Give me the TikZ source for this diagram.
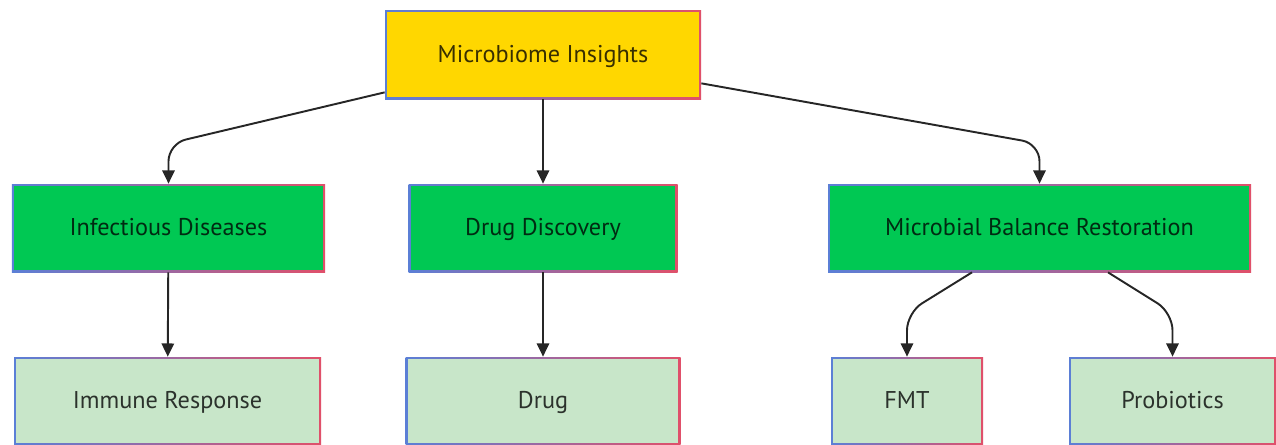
\documentclass[tikz,border=0pt]{standalone}
\usepackage{fontspec}
\setmainfont{PT Sans}
\usetikzlibrary{arrows.meta}
\definecolor{rootyellow}{HTML}{FFD700}
\definecolor{midgreen}{HTML}{00C853}
\definecolor{leafgreen}{HTML}{C8E6C9}
\definecolor{borderblue}{HTML}{5B7FD6}
\definecolor{borderred}{HTML}{E0506A}
\tikzset {>={Triangle[length=7.5pt,width=7pt]},
  boxfill/.store in=\boxfillcolor, boxfill=white,
  box/.style={inner sep=0pt, minimum height=1.76cm,
    text height=2.25ex, text depth=.45ex,
    text=black, text opacity=.78, font=\fontsize{13.8}{16}\selectfont,
    path picture={
      \shade[left color=borderblue, right color=borderred]
        (path picture bounding box.south west) rectangle (path picture bounding box.north east);
      \fill[\boxfillcolor]
        ([shift={(1.2pt,1.2pt)}]path picture bounding box.south west) rectangle
        ([shift={(-1.2pt,-1.2pt)}]path picture bounding box.north east);}},
  rootbox/.style={box, boxfill=rootyellow},
  midbox/.style={box, boxfill=midgreen},
  leafbox/.style={box, boxfill=leafgreen},
  edge/.style={->, line width=1.1pt, draw=black!85, rounded corners=10pt}
}

\begin{document}
\begin{tikzpicture}
\useasboundingbox (0,0) rectangle (25.52,8.88);

% top
\node[rootbox, minimum width=6.32cm, minimum height=1.78cm] (insights) at (10.86,7.79) {Microbiome Insights};

% middle row
\node[midbox, minimum width=6.26cm] (infect) at (3.37,4.32) {Infectious Diseases};
\node[midbox, minimum width=5.38cm] (drugdisc) at (10.86,4.32) {Drug Discovery};
\node[midbox, minimum width=8.46cm] (balance) at (20.79,4.32) {Microbial Balance Restoration};

% bottom row
\node[leafbox, minimum width=6.14cm] (immune) at (3.35,0.86) {Immune Response};
\node[leafbox, minimum width=5.5cm] (drug) at (10.86,0.86) {Drug};
\node[leafbox, minimum width=3.04cm] (fmt) at (18.14,0.86) {FMT};
\node[leafbox, minimum width=4.14cm] (probio) at (23.45,0.86) {Probiotics};

\draw[edge] ([yshift=.14cm]insights.south west) -- ([yshift=.8cm]infect.north) -- (infect.north);
\draw[edge] (insights.south) -- (drugdisc.north);
\draw[edge] ([yshift=.32cm]insights.south east) -- ([yshift=.8cm]balance.north) -- (balance.north);

\draw[edge] (infect) -- (immune);
\draw[edge] (drugdisc) -- (drug);
\draw[edge] ([xshift=-1.35cm]balance.south) -- ([yshift=.88cm]fmt.north) -- (fmt.north);
\draw[edge] ([xshift=1.37cm]balance.south) -- ([yshift=.88cm]probio.north) -- (probio.north);
\end{tikzpicture}
\end{document}
